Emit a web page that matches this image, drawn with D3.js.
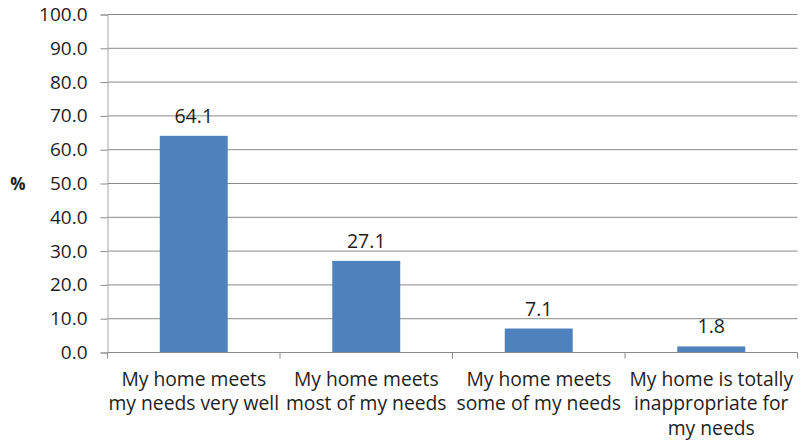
<!DOCTYPE html>
<html>
<head>
<meta charset="utf-8">
<script src="https://cdn.jsdelivr.net/npm/d3@7"></script>
<style>
  body { margin: 0; background: #fff; }
  svg text { font-family: "Open Sans", sans-serif; fill: #1e1e1e; }
</style>
</head>
<body>
<div class="chart-div"></div>
<script>
// data
const categories = [
  ["My home meets", "my needs very well"],
  ["My home meets", "most of my needs"],
  ["My home meets", "some of my needs"],
  ["My home is totally", "inappropriate for", "my needs"]
];
const values = [64.1, 27.1, 7.1, 1.8];
const yTicks = [0, 10, 20, 30, 40, 50, 60, 70, 80, 90, 100];

const svgWidth = 802;
const svgHeight = 442;
const margin = { top: 14.5, right: 4.5, bottom: 89.5, left: 107.5 };
const width = svgWidth - margin.left - margin.right;
const height = svgHeight - margin.top - margin.bottom;

const svg = d3
  .select(".chart-div")
  .append("svg")
  .attr("width", svgWidth)
  .attr("height", svgHeight);

const g = svg
  .append("g")
  .attr("transform", "translate(" + margin.left + "," + margin.top + ")");

const x = d3
  .scaleBand()
  .domain(d3.range(values.length))
  .range([0, width])
  .paddingInner(0.606)
  .paddingOuter(0.303);

// plain band scale for category tick positions
const xCat = d3.scaleBand().domain(d3.range(values.length)).range([0, width]);

const y = d3.scaleLinear().domain([0, 100]).range([height, 0]);

// horizontal gridlines
g.append("g")
  .selectAll("line")
  .data(yTicks.slice(1))
  .enter()
  .append("line")
  .attr("x1", 0)
  .attr("x2", width)
  .attr("y1", d => y(d))
  .attr("y2", d => y(d))
  .attr("stroke", "#8a8a8a")
  .attr("stroke-width", 1);

// y axis
const yAxis = g
  .append("g")
  .call(
    d3.axisLeft(y)
      .tickValues(yTicks)
      .tickSize(7)
      .tickPadding(13)
      .tickFormat(d3.format(".1f"))
  );
yAxis.select(".domain").attr("stroke", "#a6a6a6");
yAxis.selectAll(".tick line").attr("stroke", "#8a8a8a");
yAxis
  .selectAll(".tick text")
  .style("font-size", "19px")
  .style("font-family", "'Open Sans', sans-serif")
  .attr("fill", "#1e1e1e");

// bars
g.selectAll(".bar")
  .data(values)
  .enter()
  .append("rect")
  .attr("class", "bar")
  .attr("x", (d, i) => x(i))
  .attr("width", x.bandwidth())
  .attr("y", d => y(d))
  .attr("height", d => height - y(d))
  .attr("fill", "#4f81bd");

// value labels
g.selectAll(".val")
  .data(values)
  .enter()
  .append("text")
  .attr("class", "val")
  .attr("x", (d, i) => x(i) + x.bandwidth() / 2)
  .attr("y", d => y(d) - 13)
  .attr("text-anchor", "middle")
  .style("font-size", "19.5px")
  .text(d => d3.format(".1f")(d));

// x axis baseline and category ticks
g.append("line")
  .attr("x1", 0)
  .attr("x2", width)
  .attr("y1", height)
  .attr("y2", height)
  .attr("stroke", "#8a8a8a");

g.append("g")
  .selectAll("line")
  .data(d3.range(values.length + 1))
  .enter()
  .append("line")
  .attr("x1", d => (d < values.length ? xCat(d) : width))
  .attr("x2", d => (d < values.length ? xCat(d) : width))
  .attr("y1", height)
  .attr("y2", height + 6)
  .attr("stroke", "#8a8a8a");

// category labels
const catText = g
  .selectAll(".cat")
  .data(categories)
  .enter()
  .append("text")
  .attr("class", "cat")
  .attr("text-anchor", "middle")
  .attr("transform", (d, i) =>
    "translate(" + (xCat(i) + xCat.bandwidth() / 2) + "," + (height + 33) + ")")
  .style("font-size", "19.3px");

catText
  .selectAll("tspan")
  .data(d => d)
  .enter()
  .append("tspan")
  .attr("x", 0)
  .attr("dy", (d, i) => (i === 0 ? 0 : 24.5))
  .text(d => d);

// y axis title
svg.append("text")
  .attr("x", 18)
  .attr("y", 190)
  .attr("text-anchor", "middle")
  .style("font-size", "17px")
  .style("font-weight", "bold")
  .text("%");
</script>
</body>
</html>
